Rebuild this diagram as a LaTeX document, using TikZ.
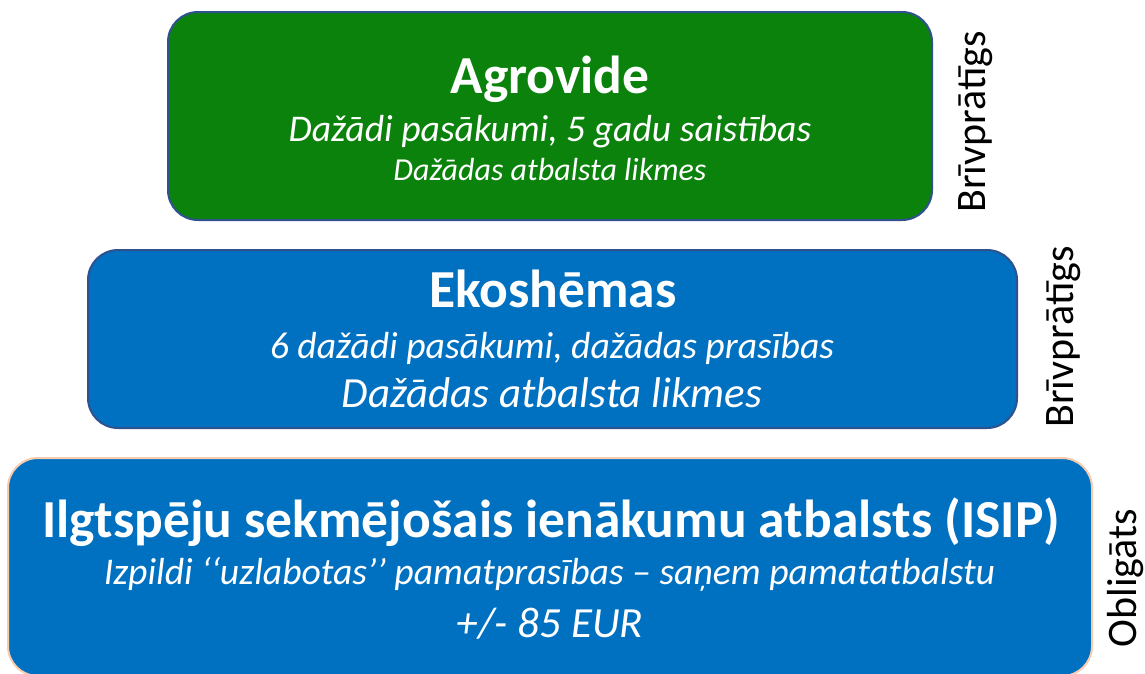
\documentclass[tikz,border=0pt]{standalone}
\usepackage{fontspec}
\setmainfont{Carlito}
\definecolor{agreen}{RGB}{11,130,11}
\definecolor{ablue}{RGB}{0,112,192}
\definecolor{bord}{RGB}{47,82,143}
\definecolor{peach}{RGB}{248,203,173}
\begin{document}
\begin{tikzpicture}[x=1pt,y=-1pt,
  box/.style={draw, rounded corners=30pt, line width=2pt, inner sep=0pt},
  txt/.style={text=white, anchor=base, inner sep=0pt},
  ttl/.style={txt, font=\fontsize{53.5}{60}\selectfont\bfseries},
  sub/.style={txt, font=\fontsize{37.7}{44}\selectfont\itshape},
  subs/.style={txt, font=\fontsize{32}{38}\selectfont\itshape},
  subl/.style={txt, font=\fontsize{43}{50}\selectfont\itshape},
  side/.style={rotate=90, anchor=base, inner sep=0pt, font=\fontsize{42}{48}\selectfont}]
\useasboundingbox (0,0) rectangle (1145,673);
% boxes
\node[box, fill=agreen, draw=bord, minimum width=764pt, minimum height=208pt] (agro) at (550,116) {};
\node[box, fill=ablue, draw=bord, minimum width=929pt, minimum height=178pt] (eko) at (552.5,339) {};
\node[box, fill=ablue, draw=peach, minimum width=1084pt, minimum height=218pt] (isip) at (550,567) {};
% texts
\node[ttl] (t1) at (550,93) {Agrovide};
\node[sub] (t1a) at (550,141) {Dažādi pasākumi, 5 gadu saistības};
\node[subs] (t1b) at (550,180) {Dažādas atbalsta likmes};
\node[ttl] (t2) at (553,307) {Ekoshēmas};
\node[sub] (t2a) at (552,358) {6 dažādi pasākumi, dažādas prasības};
\node[subl] (t2b) at (552,407) {Dažādas atbalsta likmes};
\node[ttl] (t3) at (551,537) {Ilgtspēju sekmējošais ienākumu atbalsts (ISIP)};
\node[sub] (t3a) at (549.5,584) {Izpildi ‘‘uzlabotas’’ pamatprasības – saņem pamatatbalstu};
\node[subl] (t3b) at (550,637) {+/- 85 EUR};
% side labels
\node[side] (s1) at (985,122) {Brīvprātīgs};
\node[side] (s2) at (1073,337) {Brīvprātīgs};
\node[side] (s3) at (1136,578) {Obligāts};
\end{tikzpicture}
\end{document}
